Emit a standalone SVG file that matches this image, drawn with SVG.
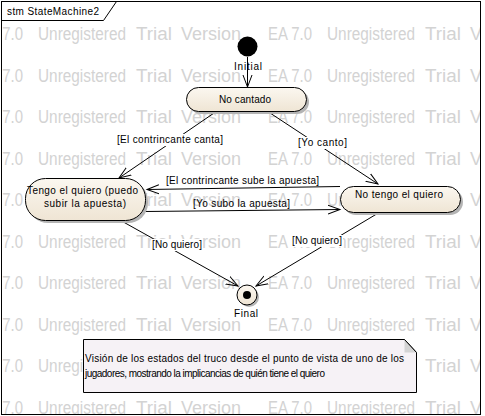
<svg xmlns="http://www.w3.org/2000/svg" width="485" height="416" viewBox="0 0 485 416">
<style>
.wm{font-family:"Liberation Sans",Arial,sans-serif;font-size:17.5px;fill:#d3d3d3}
.t{font-family:"Liberation Sans",Arial,sans-serif;font-size:10px;fill:#000}
.node{fill:url(#beige);stroke:#000;stroke-width:1}
.sh{fill:#b4b4b4}
.edge{fill:none;stroke:#000;stroke-width:1}
.lbg{fill:#fff}
</style>
<defs>
<linearGradient id="beige" x1="0" y1="0" x2="0" y2="1">
<stop offset="0" stop-color="#fbf7f0"/>
<stop offset="1" stop-color="#efe5d4"/>
</linearGradient>
<marker id="arr" markerUnits="userSpaceOnUse" markerWidth="14" markerHeight="12" refX="12" refY="5" orient="auto" viewBox="0 0 14 10">
<path d="M0,0.5 L12,5 L0,9.5" fill="none" stroke="#000" stroke-width="1"/>
</marker>
<clipPath id="fr"><rect x="2" y="2" width="478" height="412"/></clipPath>
</defs>
<rect width="485" height="416" fill="#fff"/>
<g id="watermark" clip-path="url(#fr)">
<text class="wm" y="40"><tspan x="-21" textLength="44" lengthAdjust="spacingAndGlyphs">EA 7.0</tspan><tspan x="38" textLength="88" lengthAdjust="spacingAndGlyphs">Unregistered</tspan><tspan x="136" textLength="36" lengthAdjust="spacingAndGlyphs">Trial</tspan><tspan x="181" textLength="60" lengthAdjust="spacingAndGlyphs">Version</tspan><tspan x="268" textLength="44" lengthAdjust="spacingAndGlyphs">EA 7.0</tspan><tspan x="327" textLength="88" lengthAdjust="spacingAndGlyphs">Unregistered</tspan><tspan x="425" textLength="36" lengthAdjust="spacingAndGlyphs">Trial</tspan><tspan x="470" textLength="60" lengthAdjust="spacingAndGlyphs">Version</tspan></text>
<text class="wm" y="81.5"><tspan x="-21" textLength="44" lengthAdjust="spacingAndGlyphs">EA 7.0</tspan><tspan x="38" textLength="88" lengthAdjust="spacingAndGlyphs">Unregistered</tspan><tspan x="136" textLength="36" lengthAdjust="spacingAndGlyphs">Trial</tspan><tspan x="181" textLength="60" lengthAdjust="spacingAndGlyphs">Version</tspan><tspan x="268" textLength="44" lengthAdjust="spacingAndGlyphs">EA 7.0</tspan><tspan x="327" textLength="88" lengthAdjust="spacingAndGlyphs">Unregistered</tspan><tspan x="425" textLength="36" lengthAdjust="spacingAndGlyphs">Trial</tspan><tspan x="470" textLength="60" lengthAdjust="spacingAndGlyphs">Version</tspan></text>
<text class="wm" y="123"><tspan x="-21" textLength="44" lengthAdjust="spacingAndGlyphs">EA 7.0</tspan><tspan x="38" textLength="88" lengthAdjust="spacingAndGlyphs">Unregistered</tspan><tspan x="136" textLength="36" lengthAdjust="spacingAndGlyphs">Trial</tspan><tspan x="181" textLength="60" lengthAdjust="spacingAndGlyphs">Version</tspan><tspan x="268" textLength="44" lengthAdjust="spacingAndGlyphs">EA 7.0</tspan><tspan x="327" textLength="88" lengthAdjust="spacingAndGlyphs">Unregistered</tspan><tspan x="425" textLength="36" lengthAdjust="spacingAndGlyphs">Trial</tspan><tspan x="470" textLength="60" lengthAdjust="spacingAndGlyphs">Version</tspan></text>
<text class="wm" y="164.5"><tspan x="-21" textLength="44" lengthAdjust="spacingAndGlyphs">EA 7.0</tspan><tspan x="38" textLength="88" lengthAdjust="spacingAndGlyphs">Unregistered</tspan><tspan x="136" textLength="36" lengthAdjust="spacingAndGlyphs">Trial</tspan><tspan x="181" textLength="60" lengthAdjust="spacingAndGlyphs">Version</tspan><tspan x="268" textLength="44" lengthAdjust="spacingAndGlyphs">EA 7.0</tspan><tspan x="327" textLength="88" lengthAdjust="spacingAndGlyphs">Unregistered</tspan><tspan x="425" textLength="36" lengthAdjust="spacingAndGlyphs">Trial</tspan><tspan x="470" textLength="60" lengthAdjust="spacingAndGlyphs">Version</tspan></text>
<text class="wm" y="206"><tspan x="-21" textLength="44" lengthAdjust="spacingAndGlyphs">EA 7.0</tspan><tspan x="38" textLength="88" lengthAdjust="spacingAndGlyphs">Unregistered</tspan><tspan x="136" textLength="36" lengthAdjust="spacingAndGlyphs">Trial</tspan><tspan x="181" textLength="60" lengthAdjust="spacingAndGlyphs">Version</tspan><tspan x="268" textLength="44" lengthAdjust="spacingAndGlyphs">EA 7.0</tspan><tspan x="327" textLength="88" lengthAdjust="spacingAndGlyphs">Unregistered</tspan><tspan x="425" textLength="36" lengthAdjust="spacingAndGlyphs">Trial</tspan><tspan x="470" textLength="60" lengthAdjust="spacingAndGlyphs">Version</tspan></text>
<text class="wm" y="247.5"><tspan x="-21" textLength="44" lengthAdjust="spacingAndGlyphs">EA 7.0</tspan><tspan x="38" textLength="88" lengthAdjust="spacingAndGlyphs">Unregistered</tspan><tspan x="136" textLength="36" lengthAdjust="spacingAndGlyphs">Trial</tspan><tspan x="181" textLength="60" lengthAdjust="spacingAndGlyphs">Version</tspan><tspan x="268" textLength="44" lengthAdjust="spacingAndGlyphs">EA 7.0</tspan><tspan x="327" textLength="88" lengthAdjust="spacingAndGlyphs">Unregistered</tspan><tspan x="425" textLength="36" lengthAdjust="spacingAndGlyphs">Trial</tspan><tspan x="470" textLength="60" lengthAdjust="spacingAndGlyphs">Version</tspan></text>
<text class="wm" y="289"><tspan x="-21" textLength="44" lengthAdjust="spacingAndGlyphs">EA 7.0</tspan><tspan x="38" textLength="88" lengthAdjust="spacingAndGlyphs">Unregistered</tspan><tspan x="136" textLength="36" lengthAdjust="spacingAndGlyphs">Trial</tspan><tspan x="181" textLength="60" lengthAdjust="spacingAndGlyphs">Version</tspan><tspan x="268" textLength="44" lengthAdjust="spacingAndGlyphs">EA 7.0</tspan><tspan x="327" textLength="88" lengthAdjust="spacingAndGlyphs">Unregistered</tspan><tspan x="425" textLength="36" lengthAdjust="spacingAndGlyphs">Trial</tspan><tspan x="470" textLength="60" lengthAdjust="spacingAndGlyphs">Version</tspan></text>
<text class="wm" y="330.5"><tspan x="-21" textLength="44" lengthAdjust="spacingAndGlyphs">EA 7.0</tspan><tspan x="38" textLength="88" lengthAdjust="spacingAndGlyphs">Unregistered</tspan><tspan x="136" textLength="36" lengthAdjust="spacingAndGlyphs">Trial</tspan><tspan x="181" textLength="60" lengthAdjust="spacingAndGlyphs">Version</tspan><tspan x="268" textLength="44" lengthAdjust="spacingAndGlyphs">EA 7.0</tspan><tspan x="327" textLength="88" lengthAdjust="spacingAndGlyphs">Unregistered</tspan><tspan x="425" textLength="36" lengthAdjust="spacingAndGlyphs">Trial</tspan><tspan x="470" textLength="60" lengthAdjust="spacingAndGlyphs">Version</tspan></text>
<text class="wm" y="372"><tspan x="-21" textLength="44" lengthAdjust="spacingAndGlyphs">EA 7.0</tspan><tspan x="38" textLength="88" lengthAdjust="spacingAndGlyphs">Unregistered</tspan><tspan x="136" textLength="36" lengthAdjust="spacingAndGlyphs">Trial</tspan><tspan x="181" textLength="60" lengthAdjust="spacingAndGlyphs">Version</tspan><tspan x="268" textLength="44" lengthAdjust="spacingAndGlyphs">EA 7.0</tspan><tspan x="327" textLength="88" lengthAdjust="spacingAndGlyphs">Unregistered</tspan><tspan x="425" textLength="36" lengthAdjust="spacingAndGlyphs">Trial</tspan><tspan x="470" textLength="60" lengthAdjust="spacingAndGlyphs">Version</tspan></text>
<text class="wm" y="413.5"><tspan x="-21" textLength="44" lengthAdjust="spacingAndGlyphs">EA 7.0</tspan><tspan x="38" textLength="88" lengthAdjust="spacingAndGlyphs">Unregistered</tspan><tspan x="136" textLength="36" lengthAdjust="spacingAndGlyphs">Trial</tspan><tspan x="181" textLength="60" lengthAdjust="spacingAndGlyphs">Version</tspan><tspan x="268" textLength="44" lengthAdjust="spacingAndGlyphs">EA 7.0</tspan><tspan x="327" textLength="88" lengthAdjust="spacingAndGlyphs">Unregistered</tspan><tspan x="425" textLength="36" lengthAdjust="spacingAndGlyphs">Trial</tspan><tspan x="470" textLength="60" lengthAdjust="spacingAndGlyphs">Version</tspan></text>
</g>
<g id="frame">
<rect x="1.5" y="1.5" width="479" height="413" fill="none" stroke="#000"/>
<path d="M1.5,20.5 H103.5 L116.5,1.5" fill="none" stroke="#000"/>
<text class="t" x="7" y="15" textLength="92">stm StateMachine2</text>
</g>
<g id="connectors">
<path class="edge" d="M247.5,57 L247.5,87" marker-end="url(#arr)"/>
<path class="edge" d="M217,111 L119,178" marker-end="url(#arr)"/>
<path class="edge" d="M267,111 L378,184" marker-end="url(#arr)"/>
<path class="edge" d="M340,186.5 L147,189.5" marker-end="url(#arr)"/>
<path class="edge" d="M145,211.5 L340,209.5" marker-end="url(#arr)"/>
<path class="edge" d="M118,219 L238,286" marker-end="url(#arr)"/>
<path class="edge" d="M380,212 L256,286" marker-end="url(#arr)"/>
<rect class="lbg" x="116" y="134" width="108" height="12"/>
<text class="t" x="117" y="143" textLength="106">[El contrincante canta]</text>
<rect class="lbg" x="297" y="137" width="51" height="12"/>
<text class="t" x="298" y="146" textLength="49">[Yo canto]</text>
<text class="t" x="166" y="184" textLength="153">[El contrincante sube la apuesta]</text>
<text class="t" x="193" y="207" textLength="97">[Yo subo la apuesta]</text>
<rect class="lbg" x="151" y="239" width="52" height="12"/>
<text class="t" x="152" y="248" textLength="50">[No quiero]</text>
<rect class="lbg" x="291" y="235" width="52" height="12"/>
<text class="t" x="292" y="244" textLength="50">[No quiero]</text>
</g>
<g id="initial">
<circle cx="247.5" cy="46.5" r="10" fill="#000"/>
<text class="t" x="248" y="70" text-anchor="middle" textLength="28">Initial</text>
</g>
<g id="no-cantado">
<rect class="sh" x="189" y="90" width="120" height="24" rx="12"/>
<rect class="node" x="186.5" y="87.5" width="120" height="24" rx="12"/>
<text class="t" x="245" y="103" text-anchor="middle" textLength="52">No cantado</text>
</g>
<g id="tengo">
<rect class="sh" x="28" y="181" width="120" height="42" rx="20"/>
<rect class="node" x="25.5" y="178.5" width="120" height="42" rx="20"/>
<text class="t" x="82.5" y="194" text-anchor="middle" textLength="111">Tengo el quiero (puedo</text>
<text class="t" x="85" y="207" text-anchor="middle" textLength="82">subir la apuesta)</text>
</g>
<g id="no-tengo">
<rect class="sh" x="343" y="189" width="120" height="26" rx="13"/>
<rect class="node" x="340.5" y="186.5" width="120" height="26" rx="13"/>
<text class="t" x="399" y="198" text-anchor="middle" textLength="88">No tengo el quiero</text>
</g>
<g id="final">
<circle cx="249" cy="297" r="10" fill="#b4b4b4"/>
<circle cx="247" cy="295" r="10" fill="url(#beige)" stroke="#000"/>
<circle cx="247" cy="295" r="4" fill="#000"/>
<text class="t" x="246" y="317" text-anchor="middle" textLength="24">Final</text>
</g>
<g id="note">
<path d="M83.5,339.5 H404.5 L416.5,352.5 V392.5 H83.5 Z" fill="#f6f2f6" stroke="#000"/>
<path d="M404.5,339.5 L416.5,352.5 H404.5 Z" fill="#d4d4d4" stroke="none"/>
<path d="M404.5,339.5 L416.5,352.5" fill="none" stroke="#000"/>
<text class="t" x="85" y="362" textLength="319">Visión de los estados del truco desde el punto de vista de uno de los</text>
<text class="t" x="85" y="377" textLength="240">jugadores, mostrando la implicancias de quién tiene el quiero</text>
</g>
</svg>
